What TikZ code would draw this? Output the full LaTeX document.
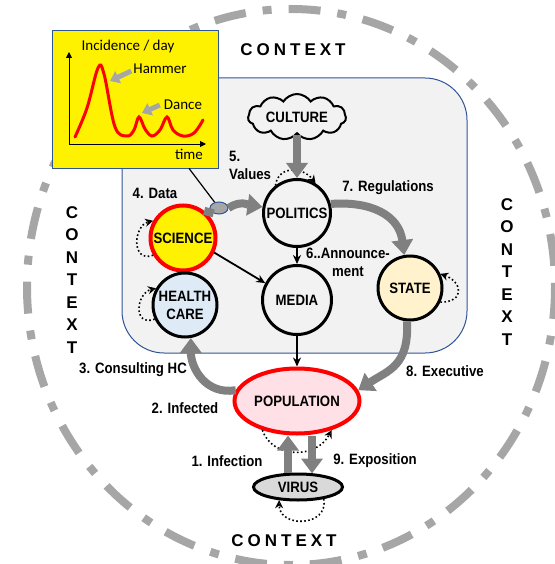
\documentclass[tikz,border=0pt]{standalone}
\usepackage{fontspec}
\setmainfont{Liberation Sans}
\newfontfamily\lblfont[FakeStretch=0.88]{Liberation Sans}
\newfontfamily\chartfont{Carlito}
\usetikzlibrary{arrows.meta,shapes.geometric,shapes.symbols,calc}

\definecolor{ctxgray}{HTML}{A6A6A6}
\definecolor{arrowgray}{HTML}{808080}
\definecolor{boxfill}{HTML}{F2F2F2}
\definecolor{boxline}{HTML}{2F5597}
\definecolor{popfill}{HTML}{FFE0E6}
\definecolor{hcfill}{HTML}{DEEBF7}
\definecolor{statefill}{HTML}{FFF2CC}
\definecolor{virfill}{HTML}{D9D9D9}
\definecolor{hintgray}{HTML}{A6A6A6}

\begin{document}
\begin{tikzpicture}[x=1pt,y=-1pt,
  lbl/.style={font=\lblfont\bfseries\fontsize{15}{18}\selectfont, inner sep=0pt},
  ctx/.style={font=\bfseries\fontsize{17}{22.5}\selectfont, inner sep=0pt},
  actor/.style={circle, draw=black, line width=3pt, fill=boxfill, lbl, align=center},
  grayarrow/.style={draw=arrowgray, line width=8pt, -{Triangle[length=15pt,width=21pt]}},
  blackarrow/.style={draw=black, line width=1.8pt, -{Stealth[length=9pt,width=8pt]}},
  dotloop/.style={draw=black, line width=1.6pt, dash pattern=on 1.6pt off 2.4pt,
    -{Stealth[open,length=8pt,width=8pt]}},
  chartbox/.style={rectangle, draw=boxline, line width=0.8pt, fill=yellow,
    minimum width=166pt, minimum height=138pt, inner sep=0pt},
  charttext/.style={font=\chartfont\fontsize{15}{18}\selectfont, inner sep=0pt},
  hint/.style={draw=hintgray, line width=5pt, -{Triangle[length=9pt,width=13pt]}}
]
\path[use as bounding box] (0,0) rectangle (554,564);

% surrounding context boundary
\draw[ctxgray, line width=8pt, dash pattern=on 32pt off 17pt on 9pt off 17pt]
  (291,287) ellipse [x radius=264, y radius=278];

% the system
\draw[fill=boxfill, draw=boxline, line width=1pt, rounded corners=42pt]
  (122,78) rectangle (467,353);

% context labels
\node[ctx] (ctxtop) at (293,50) {C\kern4pt O\kern4pt N\kern4pt T\kern4pt E\kern4pt X\kern4pt T};
\node[ctx] (ctxbot) at (284,541) {C\kern4pt O\kern4pt N\kern4pt T\kern4pt E\kern4pt X\kern4pt T};
\node[ctx, align=center] (ctxleft) at (72,280) {C\\O\\N\\T\\E\\X\\T};
\node[ctx, align=center] (ctxright) at (507,272) {C\\O\\N\\T\\E\\X\\T};

% epidemic curve panel
\node[chartbox] (chart) at (135,99) {};
\draw[line width=0.9pt, -{Triangle[length=6pt,width=6pt]}] (69,145) -- (69,52);
\draw[line width=0.9pt, -{Triangle[length=6pt,width=6pt]}] (69,144) -- (206,144);
\draw[red, line width=3pt, line cap=round] plot[smooth, tension=0.6] coordinates {
  (75,137) (87,108) (98,68) (104,74) (115,127) (127,136) (134,130) (139,117)
  (145,129) (152,136) (160,130) (167,117) (173,130) (183,136) (194,133) (203,120)};
\node[charttext] (inc) at (128,47) {Incidence / day};
\node[charttext] (ham) at (160,69) {Hammer};
\node[charttext] (dan) at (183,105) {Dance};
\node[charttext] (tim) at (189,154) {time};
\coordinate (hampeak) at (110,81);
\coordinate (danpeak) at (142,113);
\draw[hint] ($(ham.west)+(-2,2)$) -- (hampeak);
\draw[hint] ($(dan.west)+(-4,0)$) -- (danpeak);

% actors
\node[cloud, cloud puffs=11, cloud puff arc=115, cloud ignores aspect, draw=black,
  line width=2pt, fill=boxfill, minimum width=98pt, minimum height=46pt, lbl] (cult) at (297,117) {CULTURE};
\node[actor, minimum size=67pt] (pol) at (297,213) {POLITICS};
\node[actor, minimum size=65pt, fill=yellow, draw=red, line width=4pt] (sci) at (183,238) {SCIENCE};
\node[actor, minimum size=64pt, fill=hcfill, font=\lblfont\bfseries\fontsize{15}{18}\selectfont] (hc) at (185,305) {HEALTH\\CARE};
\node[actor, minimum size=69pt] (med) at (297,300) {MEDIA};
\node[actor, minimum size=64pt, fill=statefill] (state) at (410,288) {STATE};
\node[ellipse, draw=red, line width=4pt, fill=popfill, minimum width=125pt, minimum height=65pt, lbl] (pop) at (297,401) {POPULATION};
\node[ellipse, draw=black, line width=3pt, fill=virfill, minimum width=89pt, minimum height=26pt, lbl] (vir) at (298,487) {VIRUS};

% data filter
\draw[line width=1.2pt] ($(chart.south)+(54,0)$) -- (219,208);
\node[ellipse, draw=boxline, line width=1pt, fill=hintgray, minimum width=18pt, minimum height=12pt, inner sep=0pt] (filt) at (219,208) {};

% self-reinforcing loops
\draw[dotloop] (pol.128) .. controls +(3,-21) and +(-12,-16) .. (pol.58);
\draw[dotloop] (sci.210) .. controls +(-22,8) and +(-20,5) .. (sci.150);
\draw[dotloop] (hc.205) .. controls +(-22,8) and +(-20,5) .. (hc.150);
\draw[dotloop] (state.-25) .. controls +(25,0) and +(22,8) .. (state.25);
\draw[dotloop] (pop.220) .. controls +(10,29) and +(-15,29) .. (pop.-40);
\draw[dotloop] (vir.-25) .. controls +(5,28) and +(0,28) .. (vir.-145);

% flows
\draw[grayarrow] (cult.south) -- (pol.north);
\draw[draw=arrowgray, line width=8pt] (sci.52) -- (filt.225);
\draw[grayarrow] (filt.east) .. controls +(12,-8) and +(-14,-2) .. (pol.170);
\draw[grayarrow] (pol.15) .. controls +(40,-3) and +(-5,-40) .. (state.100);
\draw[grayarrow] (state.265) .. controls +(2,45) and +(30,-20) .. (pop.10);
\draw[grayarrow] (pop.170) .. controls +(-30,5) and +(0,30) .. (hc.-80);
\draw[grayarrow] ($(vir.north)+(-10,0)$) -- ($(pop.south)+(-9,0)$);
\draw[grayarrow] ($(pop.south)+(15,0)$) -- ($(vir.north)+(14,1)$);

\draw[blackarrow] (sci.-25) -- (med.152);
\draw[blackarrow] (pol.south) -- (med.north);
\draw[blackarrow] (med.south) -- (pop.north);

% flow labels
\node[lbl] (l4) at (155,193) {4. Data};
\node[lbl, align=left, anchor=west] (l5) at (229,165) {5.\\Values};
\node[lbl] (l7) at (388,188) {7. Regulations};
\node[lbl, align=center] (l6) at (348,262) {6..Announce-\\ment};
\node[lbl] (l3) at (133,370) {3. Consulting HC};
\node[lbl] (l2) at (185,408) {2. Infected};
\node[lbl] (l8) at (445,371) {8. Executive};
\node[lbl] (l1) at (227,461) {1. Infection};
\node[lbl] (l9) at (375,461) {9. Exposition};
\end{tikzpicture}
\end{document}
